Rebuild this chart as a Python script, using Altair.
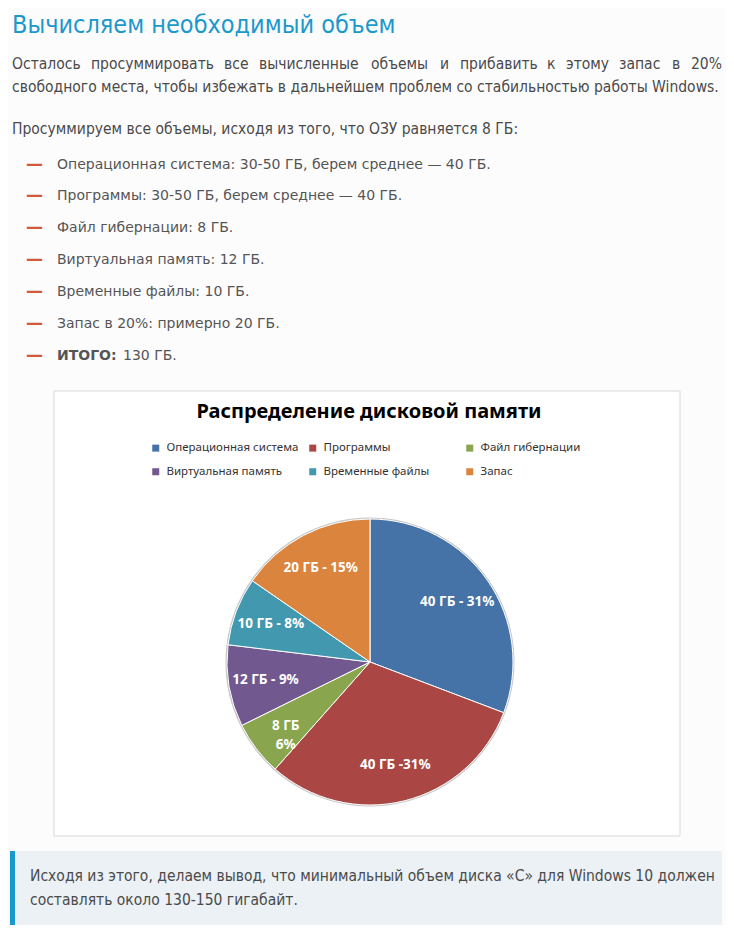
import altair as alt
import pandas as pd

# ---- data ----
categories = ["Операционная система", "Программы", "Файл гибернации",
              "Виртуальная память", "Временные файлы", "Запас"]
sizes_gb = [40, 40, 8, 12, 10, 20]
slice_labels = ["40 ГБ - 31%", "40 ГБ -31%", "8 ГБ\n6%", "12 ГБ - 9%", "10 ГБ - 8%", "20 ГБ - 15%"]
colors = ["#4572a7", "#aa4643", "#89a54e", "#71588f", "#4198af", "#db843d"]

heading = "Вычисляем необходимый объем"
para1_words = ["Осталось", "просуммировать", "все", "вычисленные", "объемы", "и",
               "прибавить", "к", "этому", "запас", "в"]
para1_word_x = [12, 91, 224, 259, 371, 440, 460, 547, 566, 619, 672]
para1_last = "20%"
para1_line2 = "свободного места, чтобы избежать в дальнейшем проблем со стабильностью работы Windows."
para2 = "Просуммируем все объемы, исходя из того, что ОЗУ равняется 8 ГБ:"
list_items = ["Операционная система: 30-50 ГБ, берем среднее — 40 ГБ.",
              "Программы: 30-50 ГБ, берем среднее — 40 ГБ.",
              "Файл гибернации: 8 ГБ.",
              "Виртуальная память: 12 ГБ.",
              "Временные файлы: 10 ГБ.",
              "Запас в 20%: примерно 20 ГБ."]
total_bold = "ИТОГО:"
total_rest = "130 ГБ."
chart_title = "Распределение дисковой памяти"
conclusion = ["Исходя из этого, делаем вывод, что минимальный объем диска «С» для Windows 10 должен",
              "составлять около 130-150 гигабайт."]

OX, OY = -8, -8
W, H = 718, 917

PARA_FONT = "'DejaVu Sans Condensed', 'Liberation Sans Narrow', sans-serif"
LIST_FONT = "'DejaVu Sans', sans-serif"
CHART_FONT = "'Noto Sans', 'Open Sans', sans-serif"

one = pd.DataFrame({"a": [0]})


def txt(s, x, y, size, color, font, weight="normal", align="left"):
    return alt.Chart(pd.DataFrame({"t": [s]})).mark_text(
        align=align, baseline="middle", font=font, fontSize=size,
        fontWeight=weight, color=color
    ).encode(text="t:N", x=alt.value(x + OX), y=alt.value(y + OY))


def box(x1, y1, x2, y2, fill, stroke=None):
    kw = dict(fill=fill)
    if stroke:
        kw.update(stroke=stroke, strokeWidth=1)
    return alt.Chart(one).mark_rect(**kw).encode(
        x=alt.value(x1 + OX), x2=alt.value(x2 + OX),
        y=alt.value(y1 + OY), y2=alt.value(y2 + OY))


layers = []
# heading and paragraphs
layers.append(txt(heading, 12, 25, 25, "#1b98cc", PARA_FONT))
for w, x in zip(para1_words, para1_word_x):
    layers.append(txt(w, x, 64, 15.5, "#4a4a4a", PARA_FONT))
layers.append(txt(para1_last, 722, 64, 15.5, "#4a4a4a", PARA_FONT, align="right"))
layers.append(txt(para1_line2, 12, 87, 15.5, "#4a4a4a", PARA_FONT))
layers.append(txt(para2, 12, 129, 15.5, "#4a4a4a", PARA_FONT))

list_y = [165, 196, 228, 260, 292, 324, 356]
for y in list_y:
    layers.append(txt("—", 26, y, 17, "#d4583d", LIST_FONT, "bold"))
for item, y in zip(list_items, list_y):
    layers.append(txt(item, 57, y, 14, "#555555", LIST_FONT))
layers.append(txt(total_bold, 57, list_y[-1], 14, "#555555", LIST_FONT, "bold"))
layers.append(txt(total_rest, 123, list_y[-1], 14, "#555555", LIST_FONT))

# chart frame
layers.append(box(54, 391, 680, 836, "#ffffff", "#d9d9d9"))
layers.append(txt(chart_title, 369, 412, 20, "#000000", CHART_FONT, "bold", "center"))

# pie
pie_df = pd.DataFrame({"cat": categories, "gb": sizes_gb, "label": slice_labels,
                       "idx": list(range(len(categories)))})
base = alt.Chart(pie_df).encode(
    theta=alt.Theta("gb:Q", stack=True),
    order=alt.Order("idx:Q"),
    x=alt.value(370 + OX), y=alt.value(662 + OY),
)
ring = base.mark_arc(radius=144.5, fill="#c8c8c8")
arcs = base.mark_arc(radius=143, stroke="white", strokeWidth=1).encode(
    color=alt.Color("cat:N", scale=alt.Scale(domain=categories, range=colors),
                    legend=alt.Legend(orient="none", legendX=142, legendY=434,
                                      direction="horizontal",
                                      columns=3, gridAlign="all", columnPadding=8,
                                      rowPadding=11, title=None, symbolType="square",
                                      symbolSize=49, symbolStrokeWidth=0,
                                      labelFont=CHART_FONT, labelFontSize=11.5,
                                      labelColor="#333333", labelOffset=5,
                                      labelLimit=300, padding=0))
)
labels = base.mark_text(radius=106, font=CHART_FONT, fontSize=13.5, fontWeight="bold",
                        color="white", lineBreak="\n", lineHeight=19, align="center",
                        baseline="middle").encode(text="label:N")

layers += [ring, arcs, labels]

# conclusion box
layers.append(box(10, 851, 722, 925, "#ebf1f5"))
layers.append(box(10, 851, 15, 925, "#1699cf"))
layers.append(txt(conclusion[0], 30, 876, 15.5, "#4a4a4a", PARA_FONT))
layers.append(txt(conclusion[1], 30, 900, 15.5, "#4a4a4a", PARA_FONT))

chart = alt.layer(*layers).properties(
    width=W, height=H, padding=0, autosize="none", background="#fdfcfd"
).configure_view(stroke=None)

chart.save("out.html", embed_options={"renderer": "svg", "actions": False})
